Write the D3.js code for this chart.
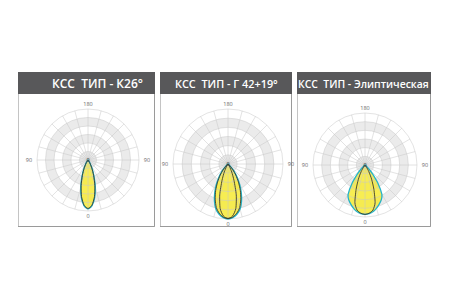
<!DOCTYPE html>
<html>
<head>
<meta charset="utf-8">
<script src="https://cdn.jsdelivr.net/npm/d3@7"></script>
<style>
  body { margin: 0; background: #fff; }
  svg { display: block; }
</style>
</head>
<body>
<div id="chart"></div>
<script>
// angles from downward vertical, degrees
var angles = [0, 5, 10, 15, 20, 25, 30, 35, 40, 45, 50, 55, 60, 90];

// relative intensity per angle
var k26      = [0.96, 0.90, 0.75, 0.55, 0.35, 0.20, 0.10, 0.05, 0.02, 0, 0, 0, 0, 0];
var k26Inner = [0.95, 0.89, 0.73, 0.52, 0.32, 0.18, 0.09, 0.04, 0.01, 0, 0, 0, 0, 0];
var g42      = [1.00, 0.98, 0.93, 0.85, 0.72, 0.57, 0.42, 0.28, 0.17, 0.08, 0.03, 0.01, 0, 0];
var g42Inner = [0.99, 0.97, 0.91, 0.82, 0.68, 0.53, 0.38, 0.25, 0.14, 0.06, 0.02, 0, 0, 0];
var g19      = [0.99, 0.95, 0.82, 0.58, 0.32, 0.16, 0.06, 0.02, 0, 0, 0, 0, 0, 0];
var ell      = [0.95, 0.94, 0.91, 0.86, 0.80, 0.74, 0.65, 0.44, 0.23, 0.10, 0.04, 0.01, 0, 0];
var ellInner = [0.95, 0.93, 0.88, 0.75, 0.50, 0.30, 0.15, 0.05, 0.01, 0, 0, 0, 0, 0];

var titles = ["КСС  ТИП - К26°", "КСС  ТИП - Г 42+19°", "КСС  ТИП - Элиптическая"];
var tickLabels = ["180", "0", "90", "90"];

var panels = [
  {x: 18, w: 137, cx: 88, cy: 160, r: 51, tx: 52, tw: 91, fill: k26, lines: [k26Inner]},
  {x: 160, w: 132, cx: 228, cy: 164, r: 55, tx: 175, tw: 103, fill: g42, lines: [g42Inner, g19]},
  {x: 297, w: 134, cx: 365, cy: 165, r: 52, tx: 298, tw: 131, fill: ell, lines: [ellInner]}
];

var svg = d3.select("#chart").append("svg")
  .attr("width", 450)
  .attr("height", 300);

var headTop = 72, headH = 22, bottom = 227;

function mirrored(vals) {
  // build full closed lobe: -90..90 degrees from down
  var pts = [];
  for (var i = angles.length - 1; i >= 0; i--) pts.push([-angles[i], vals[i]]);
  for (var j = 1; j < angles.length; j++) pts.push([angles[j], vals[j]]);
  return pts;
}

panels.forEach(function(p, i) {
  var g = svg.append("g");

  // panel body
  g.append("rect")
    .attr("x", p.x + 0.5).attr("y", headTop + 0.5)
    .attr("width", p.w - 1).attr("height", bottom - headTop - 1)
    .attr("fill", "#fff")
    .attr("stroke", "#c4c4c4");
  g.append("path")
    .attr("d", "M" + (p.x + p.w - 0.5) + "," + headTop + "V" + (bottom - 0.5) + "H" + p.x)
    .attr("fill", "none")
    .attr("stroke", "#9a9a9a");

  // header
  g.append("rect")
    .attr("x", p.x).attr("y", headTop)
    .attr("width", p.w).attr("height", headH)
    .attr("fill", "#58585a");
  var title = g.append("text")
    .attr("x", p.tx).attr("y", headTop + 16)
    .attr("fill", "#fff")
    .style("white-space", "pre")
    .style("font-family", "'Open Sans', sans-serif")
    .style("font-weight", 600)
    .style("font-size", "12.5px")
    .text(titles[i]);
  // shrink long titles so they sit inside the header
  var len = title.node().getComputedTextLength();
  if (len > p.tw) {
    title.style("font-size", (12.5 * p.tw / len) + "px");
  } else {
    title.attr("textLength", p.tw).attr("lengthAdjust", "spacing");
  }

  var r = d3.scaleLinear().domain([0, 1]).range([0, p.r]);
  var plot = g.append("g").attr("transform", "translate(" + p.cx + "," + p.cy + ")");

  // ring bands, outer first
  var rings = d3.range(6, 0, -1).map(function(k) { return k / 6; });
  plot.selectAll("circle.band").data(rings).enter().append("circle")
    .attr("class", "band")
    .attr("r", function(d) { return r(d); })
    .attr("fill", function(d, k) { return k % 2 === 0 ? "#ffffff" : "#ebebeb"; })
    .attr("stroke", "none");

  // lobes
  var line = d3.lineRadial()
    .angle(function(d) { return Math.PI + d[0] * Math.PI / 180; })
    .radius(function(d) { return r(d[1]); })
    .curve(d3.curveCardinalClosed.tension(0.3));

  plot.append("path")
    .datum(mirrored(p.fill))
    .attr("d", line)
    .attr("fill", "#f6ea3a")
    .attr("fill-opacity", 0.88)
    .attr("stroke", "none");

  // spokes every 15 degrees, drawn over fill
  plot.selectAll("line.spoke").data(d3.range(0, 360, 15)).enter().append("line")
    .attr("class", "spoke")
    .attr("x1", 0)
    .attr("y1", 0)
    .attr("x2", function(d) { return r(1) * Math.sin(d * Math.PI / 180); })
    .attr("y2", function(d) { return -r(1) * Math.cos(d * Math.PI / 180); })
    .attr("stroke", "#c8c8c8")
    .attr("stroke-opacity", 0.85)
    .attr("stroke-width", 0.6);
  plot.selectAll("circle.ring").data(rings).enter().append("circle")
    .attr("class", "ring")
    .attr("r", function(d) { return r(d); })
    .attr("fill", "none")
    .attr("stroke", "#c8c8c8")
    .attr("stroke-opacity", 0.85)
    .attr("stroke-width", 0.6);

  plot.append("path")
    .datum(mirrored(p.fill))
    .attr("d", line)
    .attr("fill", "none")
    .attr("stroke", "#25b3c8")
    .attr("stroke-width", 1.3);

  p.lines.forEach(function(vals) {
    plot.append("path")
      .datum(mirrored(vals))
      .attr("d", line)
      .attr("fill", "none")
      .attr("stroke", "#3b3b2e")
      .attr("stroke-width", 0.9);
  });

  // tick labels
  var lbl = [
    {t: tickLabels[0], x: 0, y: -r(1) - 3},
    {t: tickLabels[1], x: 0, y: r(1) + 7},
    {t: tickLabels[2], x: -r(1) - 8, y: 2},
    {t: tickLabels[3], x: r(1) + 8, y: 2},
    {t: "0", x: 0, y: 2}
  ];
  plot.selectAll("text.tick").data(lbl).enter().append("text")
    .attr("class", "tick")
    .attr("x", function(d) { return d.x; })
    .attr("y", function(d) { return d.y; })
    .attr("text-anchor", "middle")
    .attr("fill", function(d, k) { return k === 4 ? "#333" : "#666"; })
    .style("font-family", "'Open Sans', sans-serif")
    .style("font-size", "5.5px")
    .text(function(d) { return d.t; });
});
</script>
</body>
</html>
